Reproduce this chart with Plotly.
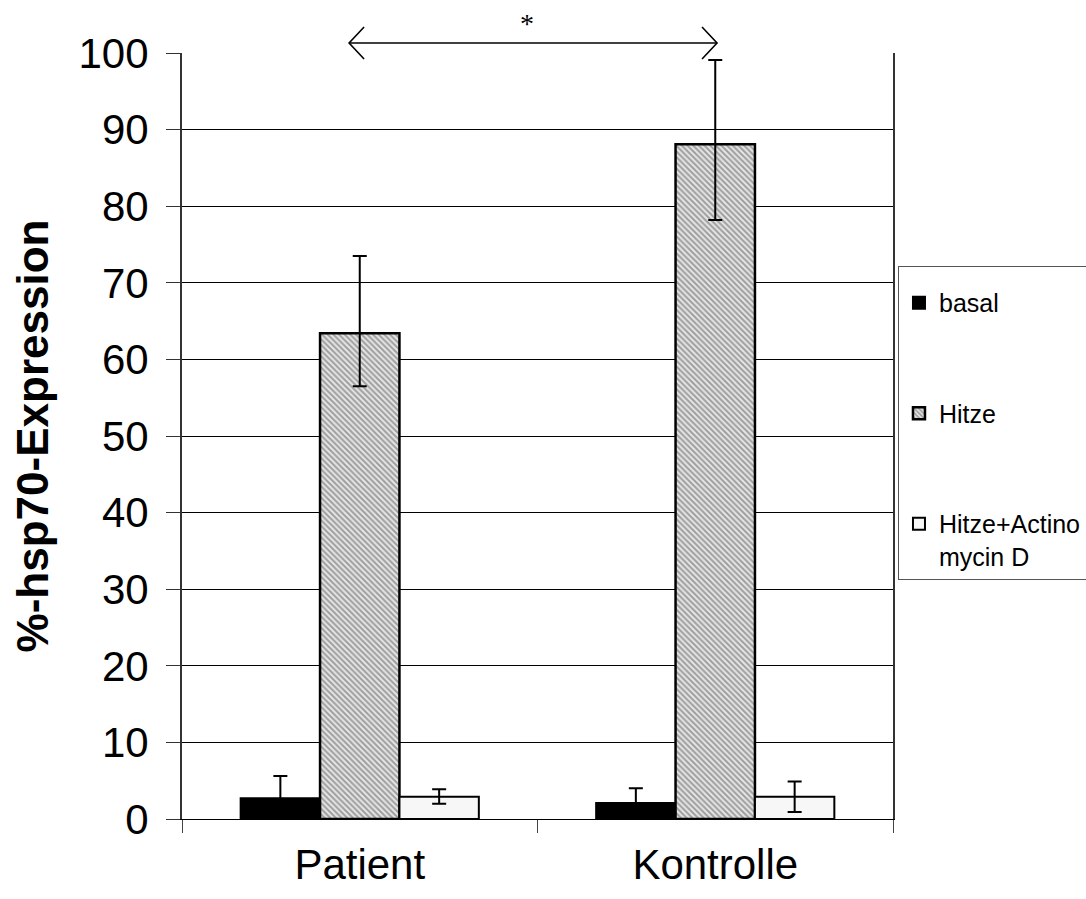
import plotly.graph_objects as go

categories = ["Patient", "Kontrolle"]
series_names = ["basal", "Hitze", "Hitze+Actino<br>mycin D"]
basal = [2.7, 2.1]
basal_err_plus = [2.9, 1.9]
basal_err_minus = [2.7, 2.1]
hitze = [63.4, 88.1]
hitze_err_plus = [10.1, 11.0]
hitze_err_minus = [6.9, 9.9]
actino = [2.9, 2.9]
actino_err_plus = [1.0, 2.0]
actino_err_minus = [0.9, 2.0]
y_ticks = [0, 10, 20, 30, 40, 50, 60, 70, 80, 90, 100]

# significance bracket (data units)
sig_from_x = -0.03
sig_to_x = 1.005
sig_y = 101.3
star_x = 0.47
star_y = 106.1

FONT = "Liberation Sans, Arial, sans-serif"
y_max = 100

fig = go.Figure()

def err(plus, minus):
    return dict(type="data", symmetric=False, array=plus, arrayminus=minus,
                color="black", thickness=2, width=7)

fig.add_trace(go.Bar(
    name=series_names[0], x=categories, y=basal,
    marker=dict(color="black", line=dict(color="black", width=2)),
    error_y=err(basal_err_plus, basal_err_minus), legendgroup="a"))
fig.add_trace(go.Bar(
    name=series_names[1], x=categories, y=hitze,
    marker=dict(color="#e6e6e6", line=dict(color="black", width=2.5),
                pattern=dict(shape="\\", fgcolor="#555555", bgcolor="#e6e6e6",
                             size=4, solidity=0.5)),
    error_y=err(hitze_err_plus, hitze_err_minus), legendgroup="b"))
fig.add_trace(go.Bar(
    name=series_names[2], x=categories, y=actino,
    marker=dict(color="#f7f7f7", line=dict(color="black", width=2)),
    error_y=err(actino_err_plus, actino_err_minus), legendgroup="c"))

# significance arrow: line + open chevrons (pixel-sized heads)
arrow_line = dict(color="black", width=1.6)
fig.add_shape(type="line", xref="x", yref="paper",
              x0=sig_from_x, x1=sig_to_x, y0=sig_y / y_max, y1=sig_y / y_max,
              line=arrow_line)
fig.add_shape(type="path", xref="x", yref="paper",
              xsizemode="pixel", ysizemode="pixel",
              xanchor=sig_from_x, yanchor=sig_y / y_max,
              path="M 15,16 L 0,0 L 15,-16", line=arrow_line)
fig.add_shape(type="path", xref="x", yref="paper",
              xsizemode="pixel", ysizemode="pixel",
              xanchor=sig_to_x, yanchor=sig_y / y_max,
              path="M -15,16 L 0,0 L -15,-16", line=arrow_line)
fig.add_annotation(
    x=star_x, y=star_y / y_max, xref="x", yref="paper",
    text="*", showarrow=False,
    font=dict(family="Liberation Serif, Times New Roman, serif", size=28, color="black"))

fig.update_layout(
    width=1086, height=899,
    margin=dict(l=182, r=193, t=53, b=80, autoexpand=False),
    paper_bgcolor="white", plot_bgcolor="white",
    barmode="group", bargap=0.33, bargroupgap=0,
    font=dict(family=FONT, color="black"),
    showlegend=True,
    legend=dict(x=1.007, y=0.722, xanchor="left", yanchor="top",
                font=dict(family=FONT, size=25, color="black"),
                bordercolor="#555555", borderwidth=1, bgcolor="white",
                traceorder="grouped", tracegroupgap=75, valign="top",
                itemwidth=30,
                title=dict(text=" ", font=dict(size=10))),
)
fig.update_xaxes(
    showline=True, linecolor="black", linewidth=1,
    ticks="outside", tickson="boundaries", ticklen=13, tickcolor="#444",
    tickfont=dict(family=FONT, size=42, color="black"), ticklabelstandoff=9,
    showgrid=False, range=[-0.5, 1.5])
fig.update_yaxes(
    range=[0, y_max], tickvals=y_ticks,
    showline=True, linecolor="#333", linewidth=2, mirror=True,
    ticks="outside", ticklen=14, tickcolor="#333",
    tickfont=dict(family=FONT, size=42, color="black"), ticklabelstandoff=9,
    showgrid=True, gridcolor="black", gridwidth=1,
    zeroline=False,
    title=dict(text="<b>%-hsp70-Expression</b>",
               font=dict(family=FONT, size=44, color="black"), standoff=16))

fig.write_html("out.html")
